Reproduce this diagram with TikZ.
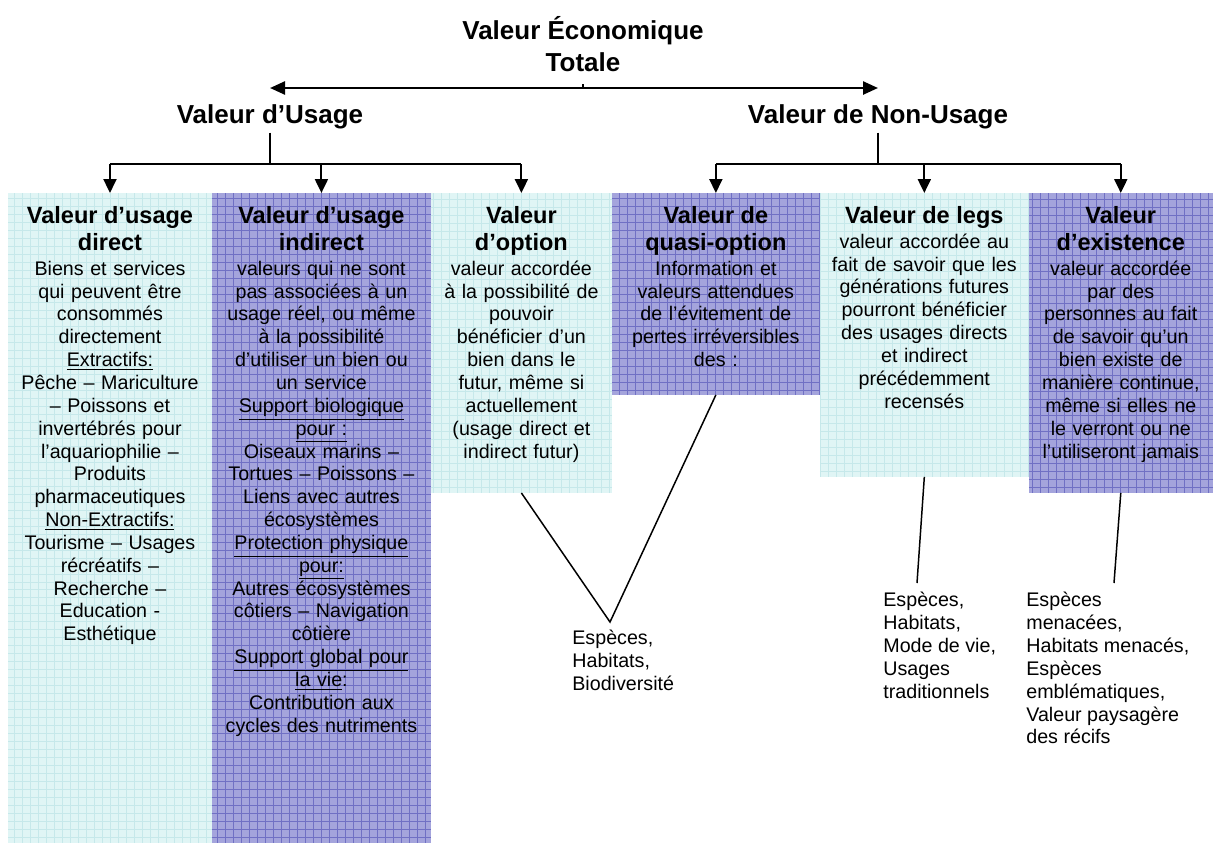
\documentclass[tikz,border=0pt]{standalone}
\usepackage{fontspec}
\setmainfont{Liberation Sans}
\usetikzlibrary{arrows.meta,positioning,calc}

% 欄位顏色
\definecolor{paleCyan}{RGB}{224,245,245}
\definecolor{paleCyanGrid}{RGB}{198,232,234}
\definecolor{lilac}{RGB}{164,164,220}
\definecolor{lilacGrid}{RGB}{112,112,196}

% 字型大小
\newcommand{\headfont}{\fontsize{14.8}{18.2}\selectfont\bfseries}
\newcommand{\coltitle}{\fontsize{13.4}{15.4}\selectfont\bfseries}
\newcommand{\colbody}{\fontsize{11.2}{13}\selectfont}

\begin{document}
\begin{tikzpicture}[
    x=0.02cm, y=-0.02cm,
    % --- 全域樣式設定 ---
    col/.style={rectangle, inner sep=0pt, outer sep=0pt, anchor=north west},
    % 淺青色欄 (含方格)
    cyan col/.style={col, fill=paleCyan,
        path picture={\draw[paleCyanGrid, line width=0.5pt]
            (path picture bounding box.south west) grid[step=0.16cm]
            (path picture bounding box.north east);}},
    % 紫色欄 (含方格)
    lilac col/.style={col, fill=lilac,
        path picture={\draw[lilacGrid, line width=0.5pt]
            (path picture bounding box.south west) grid[step=0.16cm]
            (path picture bounding box.north east);}},
    col text/.style={align=center, inner sep=0pt, font=\colbody},
    head/.style={font=\headfont, align=center, inner sep=0.06cm},
    link/.style={line width=1.15pt},
    down arrow/.style={link, -{Triangle[length=0.28cm, width=0.26cm]}},
    split arrow/.style={line width=1.4pt,
        {Triangle[length=0.3cm, width=0.26cm]}-{Triangle[length=0.3cm, width=0.26cm]}},
    leader/.style={line width=0.85pt},
    leaf/.style={align=left, anchor=north west, inner sep=0pt, font=\colbody}
]
    \useasboundingbox (0,0) rectangle (1213,843);

    % --- 1. 標題與兩大類 ---
    \node[head] (total) at (583,44) {Valeur Économique\\Totale};
    \node[head] (usage) at (270,117) {Valeur d’Usage};
    \node[head] (nonusage) at (878,117) {Valeur de Non-Usage};

    % --- 2. 六個欄位 ---
    \node[cyan col, minimum width=4.08cm, minimum height=13cm] (c1) at (8,193) {};
    \node[lilac col, minimum width=4.38cm, minimum height=13cm,
          below right=0cm and 0cm of c1.north east] (c2) {};
    \node[cyan col, minimum width=3.62cm, minimum height=6cm,
          below right=0cm and 0cm of c2.north east] (c3) {};
    \node[lilac col, minimum width=4.16cm, minimum height=4.04cm,
          below right=0cm and 0cm of c3.north east] (c4) {};
    \node[cyan col, minimum width=4.18cm, minimum height=5.68cm,
          below right=0cm and 0cm of c4.north east] (c5) {};
    \node[lilac col, minimum width=3.68cm, minimum height=6cm,
          below right=0cm and 0cm of c5.north east] (c6) {};

    % 欄位文字
    \node[col text, text width=4.08cm, below=0.26cm of c1.north] (t1) {%
        {\coltitle Valeur d’usage\\direct\\[0.04cm]}
        Biens et services\\qui peuvent être\\consommés\\directement\\
        \underline{Extractifs:}\\
        Pêche – Mariculture\\– Poissons et\\invertébrés pour\\l’aquariophilie –\\
        Produits\\pharmaceutiques\\
        \underline{Non-Extractifs:}\\
        Tourisme – Usages\\récréatifs –\\Recherche –\\Education -\\Esthétique};
    \node[col text, text width=4.38cm, below=0.26cm of c2.north] (t2) {%
        {\coltitle Valeur d’usage\\indirect\\[0.04cm]}
        valeurs qui ne sont\\pas associées à un\\usage réel, ou même\\à la possibilité\\
        d’utiliser un bien ou\\un service\\
        \underline{Support biologique}\\\underline{pour :}\\
        Oiseaux marins –\\Tortues – Poissons –\\Liens avec autres\\écosystèmes\\
        \underline{Protection physique}\\\underline{pour:}\\
        Autres écosystèmes\\côtiers – Navigation\\côtière\\
        \underline{Support global pour}\\\underline{la vie}:\\
        Contribution aux\\cycles des nutriments};
    \node[col text, text width=3.62cm, below=0.26cm of c3.north] (t3) {%
        {\coltitle Valeur\\d’option\\[0.04cm]}
        valeur accordée\\à la possibilité de\\pouvoir\\bénéficier d’un\\bien dans le\\
        futur, même si\\actuellement\\(usage direct et\\indirect futur)};
    \node[col text, text width=4.16cm, below=0.26cm of c4.north] (t4) {%
        {\coltitle Valeur de\\quasi-option\\[0.04cm]}
        Information et\\valeurs attendues\\de l’évitement de\\pertes irréversibles\\des :};
    \node[col text, text width=4.18cm, below=0.26cm of c5.north] (t5) {%
        {\coltitle Valeur de legs\\[0.04cm]}
        valeur accordée au\\fait de savoir que les\\générations futures\\pourront bénéficier\\
        des usages directs\\et indirect\\précédemment\\recensés};
    \node[col text, text width=3.68cm, below=0.26cm of c6.north] (t6) {%
        {\coltitle Valeur\\d’existence\\[0.04cm]}
        valeur accordée\\par des\\personnes au fait\\de savoir qu’un\\bien existe de\\
        manière continue,\\même si elles ne\\le verront ou ne\\l’utiliseront jamais};

    % --- 3. 箭頭 ---
    \coordinate (axe) at (583,88);
    \coordinate (rail) at (0,164);
    \draw[split arrow] (axe -| usage) -- (axe -| nonusage);
    \draw[link] (axe) -- ++(0,-4);

    % 使用價值 -> 三欄
    \draw[link] (usage.south) -- (usage.south |- rail);
    \draw[link] (c1.north |- rail) -- (c3.north |- rail);
    % 非使用價值 -> 三欄
    \draw[link] (nonusage.south) -- (nonusage.south |- rail);
    \draw[link] (c4.north |- rail) -- (c6.north |- rail);
    \foreach \c in {c1,c2,c3,c4,c5,c6}
        \draw[down arrow] (\c.north |- rail) -- (\c.north);

    % --- 4. 下方說明 ---
    \node[leaf] (lab3) at (572,630) {Espèces,\\Habitats,\\Biodiversité};
    \node[leaf] (lab5) at (883,592) {Espèces,\\Habitats,\\Mode de vie,\\Usages\\traditionnels};
    \node[leaf] (lab6) at (1026,592) {Espèces\\menacées,\\Habitats menacés,\\Espèces\\emblématiques,\\Valeur paysagère\\des récifs};

    \coordinate (tip3) at ($(lab3.north west)+(38,-8)$);
    \coordinate (tip5) at ($(lab5.north west)+(34,-9)$);
    \coordinate (tip6) at ($(lab6.north west)+(88,-9)$);
    \draw[leader] (c3.south) -- (tip3) -- (c4.south);
    \draw[leader] (c5.south) -- (tip5);
    \draw[leader] (c6.south) -- (tip6);

\end{tikzpicture}
\end{document}
